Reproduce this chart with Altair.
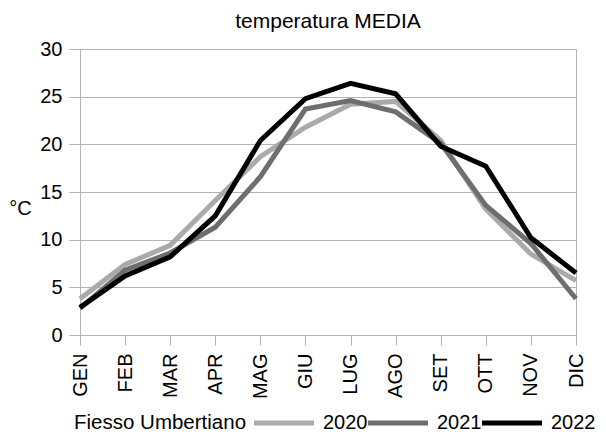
import altair as alt
import pandas as pd

months = ["GEN", "FEB", "MAR", "APR", "MAG", "GIU", "LUG", "AGO", "SET", "OTT", "NOV", "DIC"]
t2020 = [3.8, 7.4, 9.4, 14.1, 18.7, 21.8, 24.2, 24.5, 20.4, 13.2, 8.5, 5.7]
t2021 = [2.8, 6.8, 8.6, 11.3, 16.6, 23.7, 24.6, 23.4, 20.1, 13.6, 9.6, 3.8]
t2022 = [2.9, 6.2, 8.2, 12.5, 20.4, 24.8, 26.4, 25.3, 19.8, 17.7, 10.2, 6.5]
years = ["2020", "2021", "2022"]
colors = ["#aaaaaa", "#6e6e6e", "#000000"]

rows = []
for y, vals in zip(years, [t2020, t2021, t2022]):
    for i, (m, v) in enumerate(zip(months, vals)):
        rows.append({"mese": m, "ord": i, "anno": y, "temp": v})
df = pd.DataFrame(rows)

FONT = "Liberation Sans"
FS = 20

chart = alt.Chart(df).mark_line(strokeWidth=5, strokeJoin="miter").encode(
    x=alt.X("mese:N", sort=months, scale=alt.Scale(type="point", padding=0),
            axis=alt.Axis(title=None, labelAngle=-90, labelFontSize=FS, labelColor="#000",
                          labelFont=FONT, domain=False, grid=False, ticks=True,
                          tickColor="#b3b3b3", tickSize=10, labelPadding=8)),
    y=alt.Y("temp:Q", scale=alt.Scale(domain=[0, 30], nice=False),
            axis=alt.Axis(values=[0, 5, 10, 15, 20, 25, 30], title="°C", titleAngle=0,
                          titleFontSize=FS, titleFont=FONT, titleFontWeight="normal",
                          titleColor="#000", titleX=-60, titleY=159, titleBaseline="middle",
                          titleAlign="center",
                          labelFontSize=FS, labelFont=FONT, labelColor="#000",
                          domain=True, domainColor="#b3b3b3", gridColor="#b3b3b3",
                          tickColor="#b3b3b3", tickSize=11, labelPadding=7)),
    color=alt.Color("anno:N", scale=alt.Scale(domain=years, range=colors),
                    legend=alt.Legend(title="Fiesso Umbertiano", orient="none",
                                      legendX=-6, legendY=364, direction="horizontal",
                                      titleOrient="left",
                                      titleFontSize=20.5, titleFont=FONT,
                                      titleFontWeight="normal", titleColor="#000",
                                      labelFontSize=FS, labelFont=FONT, labelColor="#000",
                                      symbolType="M-6,0H6", symbolSize=100,
                                      symbolStrokeWidth=5, columnPadding=-10,
                                      labelOffset=29, titlePadding=27)),
    order="ord:Q",
).properties(
    width=496, height=286,
    title=alt.TitleParams("temperatura MEDIA", fontSize=21, font=FONT,
                          fontWeight="normal", color="#000", offset=7),
    autosize=alt.AutoSizeParams(type="none"),
    padding={"left": 72, "top": 41, "right": 22, "bottom": 110},
).configure_view(stroke="#b3b3b3", strokeWidth=1)

chart.save("out.html", embed_options={"renderer": "svg", "actions": False})
